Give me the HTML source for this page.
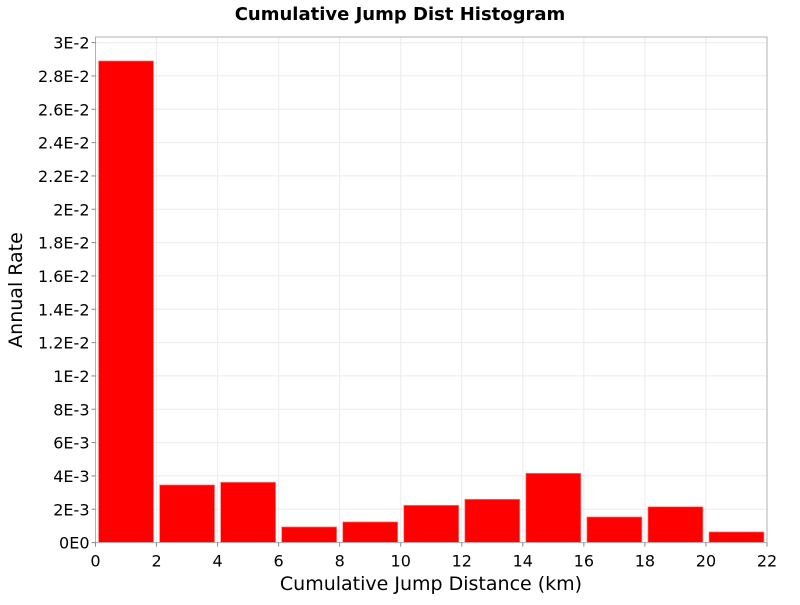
<!DOCTYPE html>
<html><head><meta charset="utf-8"><style>body{margin:0;background:#fff}svg{font-family:"DejaVu Sans","Liberation Sans",sans-serif}</style></head>
<body>
<svg id="c" width="800" height="600"></svg>
<script>
const binStarts=[0,2,4,6,8,10,12,14,16,18,20];
const rates=[0.0289,0.00346,0.00362,0.00094,0.00124,0.00224,0.0026,0.00416,0.00154,0.00215,0.00064];
const xTicks=[0,2,4,6,8,10,12,14,16,18,20,22];
const yTicks=[0,0.002,0.004,0.006,0.008,0.01,0.012,0.014,0.016,0.018,0.02,0.022,0.024,0.026,0.028,0.03];
const yLabels=["0E0","2E-3","4E-3","6E-3","8E-3","1E-2","1.2E-2","1.4E-2","1.6E-2","1.8E-2","2E-2","2.2E-2","2.4E-2","2.6E-2","2.8E-2","3E-2"];
const L=95.5,R=767,T=37,B=542.6,xMax=22,yMax=0.03,yTopPx=42.6;
const sx=v=>L+(R-L)*v/xMax, sy=v=>B-(B-yTopPx)*v/yMax;
const svg=document.getElementById('c'),NS='http://www.w3.org/2000/svg';
function mk(t,a,p){const e=document.createElementNS(NS,t);for(const k in a)e.setAttribute(k,a[k]);(p||svg).appendChild(e);return e;}
const g=mk('g',{});
xTicks.forEach(v=>mk('line',{x1:sx(v),x2:sx(v),y1:T,y2:B,stroke:'#ebebeb'},g));
yTicks.forEach(v=>mk('line',{x1:L,x2:R,y1:sy(v),y2:sy(v),stroke:'#ebebeb'},g));
binStarts.forEach((s,i)=>{const r=mk('rect',{x:sx(s+0.1),y:sy(rates[i]),width:sx(s+1.9)-sx(s+0.1),height:B-sy(rates[i]),fill:'#ff0000',stroke:'#ff8080','stroke-width':0.7});
});
const f=mk('rect',{x:L,y:T,width:R-L,height:B-T,fill:'none',stroke:'#b0b0b0'});
xTicks.forEach(v=>{mk('line',{x1:sx(v),x2:sx(v),y1:B,y2:B+4,stroke:'#888'});const t=mk('text',{x:sx(v),y:B+24,'text-anchor':'middle','font-size':16});t.textContent=v;});
yTicks.forEach((v,i)=>{mk('line',{x1:L-4,x2:L,y1:sy(v),y2:sy(v),stroke:'#888'});const t=mk('text',{x:L-6,y:sy(v)+6,'text-anchor':'end','font-size':16});t.textContent=yLabels[i];});
let t=mk('text',{x:400,y:20,'text-anchor':'middle','font-size':18,'font-weight':'bold'});t.textContent='Cumulative Jump Dist Histogram';
t=mk('text',{x:431,y:590,'text-anchor':'middle','font-size':19});t.textContent='Cumulative Jump Distance (km)';
t=mk('text',{x:22,y:290,'text-anchor':'middle','font-size':19,transform:'rotate(-90 22 290)'});t.textContent='Annual Rate';
</script>
</body></html>
